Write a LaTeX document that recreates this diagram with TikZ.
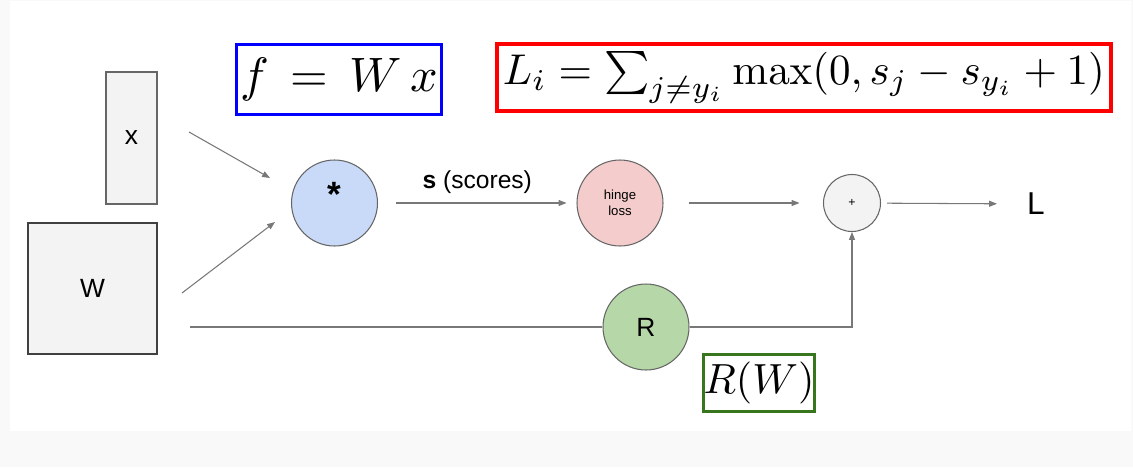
\documentclass[tikz,border=0pt]{standalone}
\usepackage[no-math]{fontspec}
\usepackage{graphicx}
\newfontfamily\drawfont{Liberation Sans}
\usetikzlibrary{arrows.meta}
\definecolor{bggray}{HTML}{F9F9F9}
\definecolor{boxfill}{HTML}{F3F3F3}
\definecolor{edgegray}{HTML}{666666}
\definecolor{wiregray}{HTML}{787878}
\definecolor{mulblue}{HTML}{C9DAF8}
\definecolor{hingered}{HTML}{F4CCCC}
\definecolor{regreen}{HTML}{B6D7A8}
\definecolor{rwgreen}{HTML}{38761D}
\tikzset{
  mat/.style={draw=edgegray,fill=boxfill,line width=0.7pt,inner sep=0pt,font=\drawfont\fontsize{15}{18}\selectfont},
  op/.style={circle,draw=edgegray,fill=boxfill,line width=0.6pt,minimum size=1.72cm,inner sep=0pt},
  wire/.style={wiregray,line width=0.6pt},
  arr/.style={wire,-{Triangle[length=4.5pt,width=3.4pt]}},
  eqbox/.style={line width=1.7pt,fill=white,inner sep=0pt}
}
\begin{document}
\begin{tikzpicture}[x=0.02cm,y=-0.02cm]
  \fill[bggray](0,0)rectangle(1133,467);
  \fill[white](10,1)rectangle(1131,431);
  \useasboundingbox(0,0)rectangle(1133,467);
  % formulas
  \node[eqbox,draw=blue,minimum width=4.12cm,minimum height=1.4cm](fbox)at(339,79.5){\scalebox{2.75}{$f\,=\,W\,x$}};
  \node[eqbox,draw=red,line width=2pt,minimum width=12.28cm,minimum height=1.34cm](lbox)at(804,77.5)
    {\scalebox{2.45}{$L_i=\sum_{j\neq y_i}\max(0,s_j-s_{y_i}+1)$}};
  \node[eqbox,draw=rwgreen,minimum width=2.22cm,minimum height=1.14cm](rwbox)at(759,383){\scalebox{2.4}{$R(W)$}};
  % inputs
  \node[mat,minimum width=1.02cm,minimum height=2.64cm](xin)at(131.5,138){x};
  \node[mat,draw=black!75,minimum width=2.58cm,minimum height=2.62cm](win)at(92.5,288.5){W};
  % operations
  \node[op,fill=mulblue,text height=0.72em,text depth=0.29em,font=\drawfont\bfseries\fontsize{20}{24}\selectfont](mul)at(334.5,203){*};
  \node[op,fill=hingered,align=center,font=\drawfont\fontsize{7.5}{9}\selectfont](hinge)at(620,203){hinge\\loss};
  \node[op,minimum size=1.14cm,font=\drawfont\fontsize{7}{8}\selectfont](plus)at(852,203){+};
  \node[op,fill=regreen,font=\drawfont\fontsize{15}{18}\selectfont](reg)at(646,327){R};
  \node[font=\drawfont\fontsize{18}{21}\selectfont](loss)at(1036,204){L};
  % connectors
  \coordinate(xout)at(189,132);
  \coordinate(xto)at(270,178);
  \coordinate(wout)at(182,293);
  \coordinate(wto)at(275,222);
  \coordinate(wreg)at(190,327);
  \draw[arr](xout)--(xto);
  \draw[arr](wout)--(wto);
  \draw[wire](wreg)--(reg.west);
  \draw[arr,shorten <=0.36cm,shorten >=0.2cm](mul)--node[above=2pt,text=black,font=\drawfont\fontsize{14}{16}\selectfont]{\textbf{s} (scores)}(hinge);
  \draw[arr,shorten <=0.5cm,shorten >=0.47cm](hinge)--(plus);
  \draw[arr,shorten <=0.12cm,shorten >=0.48cm](plus)--(loss);
  \draw[arr](reg)-|(plus);
\end{tikzpicture}
\end{document}
